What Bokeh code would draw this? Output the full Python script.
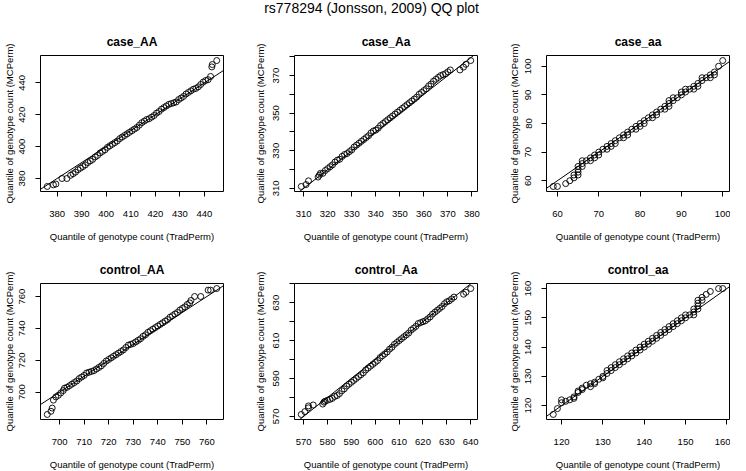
from bokeh.plotting import figure
from bokeh.models import FixedTicker, Slope, Range1d
from bokeh.layouts import column, row
from bokeh.embed import file_html
from bokeh.resources import INLINE
from bokeh.core.properties import value

MAIN_TITLE = "rs778294 (Jonsson, 2009) QQ  plot"
XLAB = "Quantile of genotype count (TradPerm)"
YLAB = "Quantile of genotype count (MCPerm)"
FONT = "Liberation Sans"

panel_titles = ["case_AA", "case_Aa", "case_aa", "control_AA", "control_Aa", "control_aa"]

# ---- case_AA ----
caseAA_trad = [376, 378.5, 379.5, 382, 384, 385.5, 386.5, 387.5, 388.5, 389.5,
               390.5, 391.5, 392.5, 393.5, 394.5, 395.5, 396.5, 397.5, 398.5, 399.5,
               400.5, 401.5, 402.5, 403.5, 404.5, 405.5, 406.5, 407.5, 408.5, 409.5,
               410.5, 411.5, 412.5, 413.5, 414.5, 415.5, 416.5, 417.5, 418.5, 419.5,
               420.5, 421.5, 422.5, 423.5, 424.5, 425.5, 426.5, 427.5, 428.5, 429.5,
               430.5, 431.5, 432.5, 433.5, 434.5, 435.5, 436.5, 437.5, 438.5, 439.5,
               440.5, 441.5, 442.5, 443, 443.2, 445]
caseAA_mc = [375, 376, 376.5, 380, 380, 382, 383, 384, 385.5, 386.5,
             387.5, 388.5, 390, 391, 392, 393.5, 394.5, 396, 397, 398,
             399.5, 400.5, 401.5, 402.5, 403.5, 405, 406, 407, 408, 409,
             410, 411, 412, 413.5, 415, 416, 417, 417.5, 418.5, 419.5,
             421, 422, 423.5, 424.5, 425.5, 426.5, 427, 427.5, 428, 429.5,
             430.5, 431.5, 433, 434, 435, 436, 436.5, 437.5, 439, 440.5,
             441.5, 442, 444, 450, 451.5, 454]
caseAA_xticks = [380, 390, 400, 410, 420, 430, 440]
caseAA_yticks = [380, 400, 420, 440]
caseAA_ylabels = ["380", "400", "420", "440"]

# ---- case_Aa ----
caseAa_trad = [309, 311, 312, 316, 316.5, 317, 318, 319, 320, 321,
               322, 323, 324, 325, 326, 327, 328, 329, 330, 331,
               332, 333, 334, 335, 336, 337, 338, 339, 340, 341,
               342, 343, 344, 345, 346, 347, 348, 349, 350, 351,
               352, 353, 354, 355, 356, 357, 358, 359, 360, 361,
               362, 363, 364, 365, 366, 367, 368, 369, 370, 371,
               375, 376.5, 377.5, 379.5]
caseAa_mc = [311, 312, 314, 316, 317, 318, 318, 319.5, 320.5, 321.5,
             322.5, 324, 325, 325.5, 327, 328, 328.5, 329.5, 330.5, 332,
             333, 334, 335, 336, 337, 338, 339.5, 340.5, 341, 342,
             343.5, 344.5, 345.5, 346.5, 347.5, 348.5, 349.5, 350.5, 351.5, 352.5,
             353.5, 354.5, 355.5, 356.5, 357.5, 358.5, 360, 361, 362, 363,
             364.5, 365.5, 367, 368, 369, 370, 370.5, 371, 372, 373,
             373, 374.5, 376, 378]
caseAa_xticks = [310, 320, 330, 340, 350, 360, 370, 380]
caseAa_yticks = [310, 320, 330, 340, 350, 360, 370, 380]
caseAa_ylabels = ["310", "", "330", "", "350", "", "370", ""]

# ---- case_aa ----
caseaa_trad = [59, 60, 62, 63, 64, 64, 65, 65, 65, 65,
               66, 66, 66, 67, 68, 68, 69, 69, 70, 70,
               71, 72, 72, 73, 73, 74, 74, 75, 76, 76,
               77, 77, 78, 79, 79, 80, 80, 81, 81, 82,
               83, 83, 84, 84, 85, 86, 86, 87, 87, 87,
               88, 88, 89, 90, 90, 91, 91, 92, 93, 93,
               94, 94, 95, 95, 96, 97, 97, 98, 98, 99,
               100]
caseaa_mc = [58, 58, 59, 60, 61, 62, 62, 63, 64, 65,
             65, 66, 67, 67, 67, 68, 68, 69, 69, 70,
             71, 71, 72, 72, 73, 73, 74, 75, 75, 76,
             76, 77, 78, 78, 79, 79, 80, 80, 81, 82,
             82, 83, 83, 84, 85, 85, 86, 86, 87, 88,
             88, 89, 89, 90, 91, 91, 92, 92, 92, 93,
             93, 94, 95, 96, 96, 96, 97, 97, 98, 100,
             102]
caseaa_xticks = [60, 70, 80, 90, 100]
caseaa_yticks = [60, 70, 80, 90, 100]
caseaa_ylabels = ["60", "70", "80", "90", "100"]

# ---- control_AA ----
controlAA_trad = [695, 696.5, 697, 697.5, 698.5, 699.5, 700.5, 701.5, 702, 703,
                  704, 705, 706, 707, 708, 709, 710, 711, 712, 713,
                  714, 715, 716, 717, 718, 719, 720, 721, 722, 723,
                  724, 725, 726, 727, 728, 729, 730, 731, 732, 733,
                  734, 735, 736, 737, 738, 739, 740, 741, 742, 743,
                  744, 745, 746, 747, 748, 749, 750, 751, 752, 753,
                  753.5, 755, 757.5, 760.5, 761.5, 764]
controlAA_mc = [686, 688, 690, 695, 697, 698, 699.5, 701, 702.5, 703,
                704, 705, 706, 707, 708.5, 709.5, 710.5, 712, 712.5, 713,
                713.5, 714.5, 715.5, 716.5, 718, 719.5, 720.5, 721.5, 722.5, 723.5,
                724.5, 725.5, 726.5, 728, 729.5, 730, 730.5, 731.5, 732.5, 733.5,
                735, 736, 737.5, 738.5, 739.5, 740.5, 741.5, 742.5, 743.5, 744.5,
                745.5, 747, 748, 749, 750, 751.5, 752.5, 753.5, 755, 756,
                757.5, 760, 760, 764, 764, 765]
controlAA_xticks = [700, 710, 720, 730, 740, 750, 760]
controlAA_yticks = [700, 720, 740, 760]
controlAA_ylabels = ["700", "720", "740", "760"]

# ---- control_Aa ----
controlAa_trad = [569, 570.5, 572, 572, 574, 578, 578.5, 579, 580, 581,
                  582, 583, 584, 585, 586, 587, 588, 589, 590, 591,
                  592, 593, 594, 595, 596, 597, 598, 599, 600, 601,
                  602, 603, 604, 605, 606, 607, 608, 609, 610, 611,
                  612, 613, 614, 615, 616, 617, 618, 619, 620, 621,
                  622, 623, 624, 625, 626, 627, 628, 629, 630, 631,
                  632, 633, 637, 638, 640]
controlAa_mc = [571, 572.5, 574.5, 575.5, 576, 576.5, 577.5, 578, 578.5, 579,
                579.5, 580.5, 581, 582, 583.5, 584.5, 586, 587, 588, 589,
                590, 591, 592, 593, 594.5, 595.5, 596.5, 597.5, 598.5, 599.5,
                601, 602, 603, 604, 605.5, 606.5, 608, 609, 610, 611,
                612, 613, 614, 615.5, 616.5, 617.5, 619, 619.5, 620, 620.5,
                621.5, 622.5, 624, 625, 626, 627, 628, 629.5, 630.5, 631,
                632, 633, 634.5, 635.5, 637.5]
controlAa_xticks = [570, 580, 590, 600, 610, 620, 630, 640]
controlAa_yticks = [570, 580, 590, 600, 610, 620, 630, 640]
controlAa_ylabels = ["570", "", "590", "", "610", "", "630", ""]

# ---- control_aa ----
controlaa_trad = [118, 119, 120, 120, 121, 122, 123, 123, 124, 124,
                  125, 125, 126, 127, 127, 128, 128, 129, 130, 130,
                  131, 131, 132, 132, 133, 133, 134, 134, 135, 135,
                  136, 136, 137, 137, 138, 138, 139, 139, 140, 140,
                  141, 141, 142, 142, 143, 143, 144, 144, 145, 145,
                  146, 146, 147, 147, 148, 148, 149, 149, 150, 150,
                  151, 152, 152, 152, 153, 153, 153, 153, 154, 154,
                  155, 156, 158, 159]
controlaa_mc = [117, 119, 121, 122, 121.5, 122, 122.5, 123, 124.5, 125,
                125.5, 126, 127, 127.5, 126.5, 128, 127.5, 129, 130, 129.5,
                131, 132, 132, 133, 133, 134, 134, 135, 135, 136,
                136, 137, 137, 138, 138, 139, 139, 140, 140, 141,
                141, 142, 142, 143, 143, 144, 144, 145, 145, 146,
                146, 147, 147, 148, 148, 149, 149, 150, 150, 151,
                151, 151, 152, 153, 153, 154, 155, 156, 156, 157,
                158, 159, 160, 160]
controlaa_xticks = [120, 130, 140, 150, 160]
controlaa_yticks = [120, 130, 140, 150, 160]
controlaa_ylabels = ["120", "130", "140", "150", "160"]

panels = [
    (caseAA_trad, caseAA_mc, caseAA_xticks, caseAA_yticks, caseAA_ylabels),
    (caseAa_trad, caseAa_mc, caseAa_xticks, caseAa_yticks, caseAa_ylabels),
    (caseaa_trad, caseaa_mc, caseaa_xticks, caseaa_yticks, caseaa_ylabels),
    (controlAA_trad, controlAA_mc, controlAA_xticks, controlAA_yticks, controlAA_ylabels),
    (controlAa_trad, controlAa_mc, controlAa_xticks, controlAa_yticks, controlAa_ylabels),
    (controlaa_trad, controlaa_mc, controlaa_xticks, controlaa_yticks, controlaa_ylabels),
]

LEFT = [40, 44, 44]
RIGHT = [27, 25, 1]
YLAB_STANDOFF = [2, 5, 3]


def make_panel(idx, title, xs, ys, xticks, yticks, ylabels):
    assert len(xs) == len(ys)
    r, c = divmod(idx, 3)
    xlo, xhi = min(xs), max(xs)
    ylo, yhi = min(ys), max(ys)
    px = 0.04 * (xhi - xlo)
    py = 0.04 * (yhi - ylo)
    p = figure(frame_width=183, frame_height=136,
               x_range=Range1d(xlo - px, xhi + px),
               y_range=Range1d(ylo - py, yhi + py),
               min_border_left=LEFT[c], min_border_right=RIGHT[c],
               min_border_top=37 if r == 0 else 39,
               min_border_bottom=49 if r == 0 else 46,
               toolbar_location=None, output_backend="svg", title=title,
               background_fill_color="white", border_fill_color="white")
    p.title.text_font = FONT
    p.title.text_font_size = "12px"
    p.title.text_font_style = "bold"
    p.title.text_color = "black"
    p.title.align = "center"
    p.title.standoff = 14
    p.grid.visible = False
    p.outline_line_color = "black"
    p.outline_line_width = 1
    p.outline_line_alpha = 1

    for ax in (p.xaxis[0], p.yaxis[0]):
        ax.axis_line_color = None
        ax.major_tick_out = 5
        ax.major_tick_in = 0
        ax.major_tick_line_color = "black"
        ax.minor_tick_line_color = None
        ax.minor_tick_out = 0
        ax.major_label_text_font = FONT
        ax.major_label_text_font_size = "9.5px"
        ax.major_label_text_color = "black"
        ax.axis_label_text_font = FONT
        ax.axis_label_text_font_size = "9.5px"
        ax.axis_label_text_font_style = "normal"
        ax.axis_label_text_color = "black"

    p.xaxis.ticker = FixedTicker(ticks=xticks)
    p.yaxis.ticker = FixedTicker(ticks=yticks)
    p.yaxis.major_label_overrides = {t: lab for t, lab in zip(yticks, ylabels)}
    p.yaxis.major_label_orientation = "vertical"
    p.xaxis.axis_label = XLAB
    p.yaxis.axis_label = YLAB
    p.xaxis.major_label_standoff = 14
    p.yaxis.major_label_standoff = 10
    p.xaxis.axis_label_standoff = 11
    p.yaxis.axis_label_standoff = YLAB_STANDOFF[c]

    p.add_layout(Slope(gradient=1, y_intercept=0, line_color="black", line_width=1))
    p.scatter(x=xs, y=ys, marker="circle", size=6, fill_color=None,
              line_color="black", line_width=0.9)
    return p


figs = [make_panel(i, panel_titles[i], *panels[i]) for i in range(6)]

tfig = figure(width=730, height=18, x_range=Range1d(0, 730), y_range=Range1d(0, 18),
              toolbar_location=None, output_backend="svg", min_border=0,
              x_axis_location=None, y_axis_location=None)
tfig.outline_line_color = None
tfig.grid.visible = False
tfig.text(x=[373], y=[11], text=[MAIN_TITLE], text_align="center", text_baseline="middle",
          text_font=value(FONT), text_font_size=value("14px"), text_color="black")

layout = column(tfig, row(figs[0], figs[1], figs[2]), row(figs[3], figs[4], figs[5]))

with open("out.html", "w") as f:
    f.write(file_html(layout, INLINE))
